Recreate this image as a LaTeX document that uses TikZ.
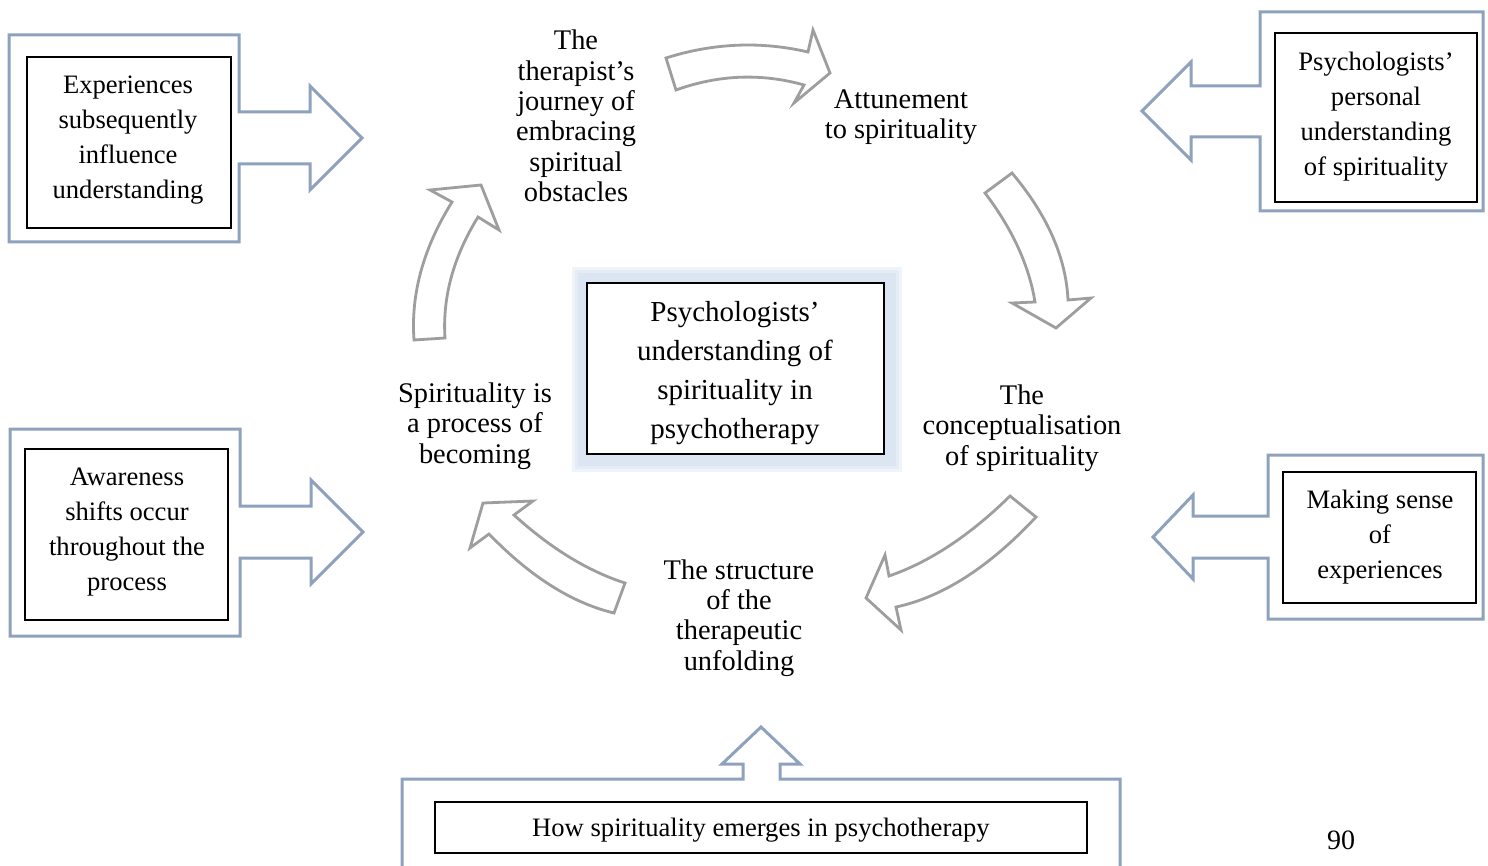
\documentclass[tikz,border=0pt]{standalone}
\usepackage{fontspec}
\setmainfont{Liberation Serif}
\usetikzlibrary{calc}
\definecolor{calblue}{RGB}{142,162,190}
\definecolor{arrgray}{RGB}{158,158,158}
\definecolor{glowblue}{RGB}{220,230,242}
\begin{document}
\begin{tikzpicture}[x=0.5pt,y=-0.5pt,
  callout/.style={draw=calblue,line width=1.5pt,line join=miter},
  blockarrow/.style={draw=arrgray,line width=1.4pt,fill=white,line join=miter},
  box/.style={draw=black,line width=0.7pt,fill=white,inner sep=0pt},
  cyc/.style={align=center,font=\fontsize{14.2}{15.2}\selectfont,inner sep=0pt},
  boxtext/.style={align=center,font=\fontsize{13.3}{17.5}\selectfont,inner sep=0pt},
  centertext/.style={align=center,font=\fontsize{14.5}{19.5}\selectfont,inner sep=0pt}]
\useasboundingbox (0,0) rectangle (1488,866);
\fill[white] (0,0) rectangle (1488,866);

% callout shapes
\draw[callout] (9,35)--(239,35)--(239,112)--(310,112)--(310,86)--(362,138)--(310,190)--(310,164)--(239,164)--(239,242)--(9,242)--cycle;
\draw[callout] (10,429)--(240,429)--(240,506)--(311,506)--(311,480)--(363,532)--(311,584)--(311,558)--(240,558)--(240,636)--(10,636)--cycle;
\draw[callout] (1483,12)--(1260,12)--(1260,86)--(1191,86)--(1191,62)--(1142,111)--(1191,160)--(1191,137)--(1260,137)--(1260,211)--(1483,211)--cycle;
\draw[callout] (1483,455)--(1268,455)--(1268,516)--(1193,516)--(1193,495)--(1153,537)--(1193,579)--(1193,558)--(1268,558)--(1268,619)--(1483,619)--cycle;
\draw[callout] (402,870)--(402,779)--(743,779)--(743,764)--(722,764)--(761,727)--(800,764)--(780,764)--(780,779)--(1120,779)--(1120,870);

% inner boxes
\node[box,minimum width=102pt,minimum height=85.5pt] (b1) at (129,142.5) {};
\node[boxtext] (t1) at (128,140) {Experiences\\subsequently\\influence\\understanding};
\node[box,minimum width=101.5pt,minimum height=85.5pt] (b2) at (126.5,534.5) {};
\node[boxtext] (t2) at (127,532) {Awareness\\shifts occur\\throughout the\\process};
\node[box,minimum width=101pt,minimum height=84.5pt] (b3) at (1376,117.5) {};
\node[boxtext] (t3) at (1376,117) {Psychologists’\\personal\\understanding\\of spirituality};
\node[box,minimum width=96.5pt,minimum height=65.5pt] (b4) at (1379.5,537.5) {};
\node[boxtext] (t4) at (1380,537) {Making sense\\of\\experiences};
\node[box,minimum width=326pt,minimum height=25.5pt] (b5) at (761,827.5) {};
\node[boxtext] (t5) at (761,830) {How spirituality emerges in psychotherapy};

% centre box with glow
\fill[glowblue!45] (572,267) rectangle (902,472);
\fill[glowblue!75] (575,270) rectangle (899,469);
\fill[glowblue] (578,273) rectangle (896,466);
\node[box,minimum width=148.5pt,minimum height=85.5pt] (cb) at (735.5,368.5) {};
\node[centertext] (ct) at (735,373) {Psychologists’\\understanding of\\spirituality in\\psychotherapy};

% cycle labels
\node[cyc] (c1) at (576,116) {The\\therapist's\\journey of\\embracing\\spiritual\\obstacles};
\node[cyc] (c2) at (901,117) {Attunement\\to spirituality};
\node[cyc] (c3) at (1022,428) {The\\conceptualisation\\of spirituality};
\node[cyc] (c4) at (739,618) {The structure\\of the\\therapeutic\\unfolding};
\node[cyc] (c5) at (475,426) {Spirituality is\\a process of\\becoming};

% curved block arrows (quadratic edges)
\draw[blockarrow] (666,58) .. controls ($(666,58)!2/3!(737,35.5)$) and ($(808,52)!2/3!(737,35.5)$) .. (808,52) -- (813,30) -- (830,73) -- (794,103) -- (804,85)
  .. controls ($(804,85)!2/3!(740,67)$) and ($(676,90)!2/3!(740,67)$) .. (676,90) -- cycle;
\draw[blockarrow] (1012,173) .. controls ($(1012,173)!2/3!(1065,236)$) and ($(1068,300)!2/3!(1065,236)$) .. (1068,300) -- (1091,298) -- (1056,328) -- (1012,303) -- (1035,302)
  .. controls ($(1035,302)!2/3!(1026,247)$) and ($(985,193)!2/3!(1026,247)$) .. (985,193) -- cycle;
\draw[blockarrow] (1036,517) .. controls ($(1036,517)!2/3!(966,592)$) and ($(896,607)!2/3!(966,592)$) .. (896,607) -- (901,630) -- (866,598) -- (885,555) -- (889,576)
  .. controls ($(889,576)!2/3!(950,555)$) and ($(1010,496)!2/3!(950,555)$) .. (1010,496) -- cycle;
\draw[blockarrow] (614,613) .. controls ($(614,613)!2/3!(551,598)$) and ($(489,534)!2/3!(551,598)$) .. (489,534) -- (470,548) -- (483,503) -- (533,501) -- (514,515)
  .. controls ($(514,515)!2/3!(569,565)$) and ($(625,583)!2/3!(569,565)$) .. (625,583) -- cycle;
\draw[blockarrow] (445,338) .. controls ($(445,338)!2/3!(441,277)$) and ($(478,217)!2/3!(441,277)$) .. (478,217) -- (499,230) -- (481,185) -- (430,190) -- (452,202)
  .. controls ($(452,202)!2/3!(409,271)$) and ($(414,340)!2/3!(409,271)$) .. (414,340) -- cycle;

% page number
\node[font=\fontsize{14}{16}\selectfont,inner sep=0pt] (pg) at (1341,840) {90};
\end{tikzpicture}
\end{document}
